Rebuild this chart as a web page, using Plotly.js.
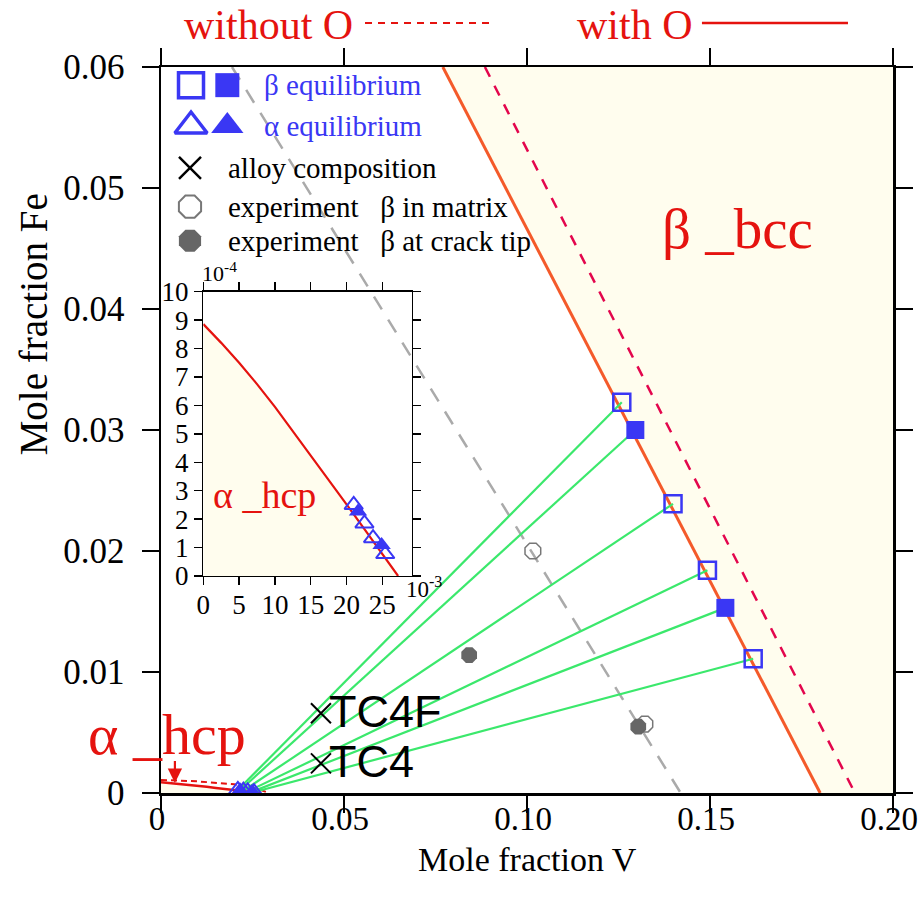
<!DOCTYPE html>
<html><head><meta charset="utf-8">
<script src="https://cdn.plot.ly/plotly-3.0.1.min.js"></script>
<style>html,body{margin:0;padding:0;background:#fff}#chart{width:919px;height:901px}</style>
</head><body><div id="chart"></div>
<script>
// ---- data (mole fraction V, mole fraction Fe) ----
const betaWithO_V = [0.0770, 0.1801];
const betaWithO_Fe = [0.06, 0];
const betaNoO_V = [0.0885, 0.1896];
const betaNoO_Fe = [0.06, 0];
const alphaWithO_V = [0, 0.0025, 0.005, 0.0075, 0.010, 0.0125, 0.015, 0.0175, 0.020, 0.0225, 0.025, 0.0272];
const alphaWithO_Fe = [0.000886, 0.00082, 0.00075, 0.000675, 0.000595, 0.00051, 0.000422, 0.000338, 0.000252, 0.000165, 0.000078, 0];
const alphaNoO_V = [0, 0.010, 0.020, 0.026, 0.0295];
const alphaNoO_Fe = [0.00108, 0.00096, 0.00072, 0.00040, 0];
const guide_V = [0.0194, 0.142];
const guide_Fe = [0.06, 0];
const tieBeta_V = [0.1259, 0.1296, 0.1399, 0.1493, 0.1542, 0.1618];
const tieBeta_Fe = [0.0323, 0.0300, 0.0239, 0.0184, 0.0153, 0.0111];
const tieAlpha_V = [0.0210, 0.0216, 0.0225, 0.0237, 0.0249, 0.0254];
const tieAlpha_Fe = [0.000250, 0.000227, 0.000185, 0.000133, 0.000109, 0.000077];
const tieFilled = [false, true, false, false, true, false];
const alloyNames = ['TC4F', 'TC4'];
const alloy_V = [0.0437, 0.0437];
const alloy_Fe = [0.00659, 0.00245];
const expMatrix_V = [0.1016, 0.1322];
const expMatrix_Fe = [0.0200, 0.0057];
const expCrack_V = [0.0842, 0.1304];
const expCrack_Fe = [0.0114, 0.00548];
const xTickVals = [0, 0.05, 0.10, 0.15, 0.20];
const xTickText = ['0', '0.05', '0.10', '0.15', '0.20'];
const yTickVals = [0, 0.01, 0.02, 0.03, 0.04, 0.05, 0.06];
const yTickText = ['0', '0.01', '0.02', '0.03', '0.04', '0.05', '0.06'];
const insetXTickVals = [0, 0.005, 0.010, 0.015, 0.020, 0.025];
const insetXTickText = ['0', '5', '10', '15', '20', '25'];
const insetYTickVals = [0, 0.0001, 0.0002, 0.0003, 0.0004, 0.0005, 0.0006, 0.0007, 0.0008, 0.0009, 0.0010];
const insetYTickText = ['0', '1', '2', '3', '4', '5', '6', '7', '8', '9', '10'];
const legendLabels = ['β equilibrium', 'α equilibrium', 'alloy composition', 'experiment&nbsp;&nbsp;&nbsp;β in matrix', 'experiment&nbsp;&nbsp;&nbsp;β at crack tip'];

// ---- styles ----
const X_RANGE = [0, 0.2], Y_RANGE = [0, 0.06];
const INSET_X = [0, 0.0291], INSET_Y = [0, 0.001];
const SERIF = 'Liberation Serif, Times New Roman, serif';
const CREAM = '#fffdee';
const RED = '#e5130f';
const BLUE = '#3a37f4';
const ORANGE = '#f45a2a';
const CRIMSON = '#e3064d';
const GREEN = '#3be86c';

const pick = (arr, cond) => arr.filter((_, i) => cond(i));
const tieX = [], tieY = [];
tieBeta_V.forEach((v, i) => { tieX.push(tieAlpha_V[i], v, null); tieY.push(tieAlpha_Fe[i], tieBeta_Fe[i], null); });

const traces = [];
traces.push({x: [betaWithO_V[0], X_RANGE[1], X_RANGE[1], betaWithO_V[1]], y: [betaWithO_Fe[0], Y_RANGE[1], Y_RANGE[0], betaWithO_Fe[1]],
  fill: 'toself', fillcolor: CREAM, line: {width: 0}, mode: 'lines', hoverinfo: 'skip'});
traces.push({x: alphaWithO_V, y: alphaWithO_Fe, fill: 'tozeroy', fillcolor: CREAM, mode: 'lines', line: {width: 0}});
traces.push({x: guide_V, y: guide_Fe, mode: 'lines', line: {color: '#aaaaaa', width: 2.5, dash: '15px,12px'}});
traces.push({x: betaNoO_V, y: betaNoO_Fe, mode: 'lines', line: {color: CRIMSON, width: 2.5, dash: '11px,10px'}});
traces.push({x: betaWithO_V, y: betaWithO_Fe, mode: 'lines', line: {color: ORANGE, width: 3}});
traces.push({x: alphaNoO_V, y: alphaNoO_Fe, mode: 'lines', line: {color: RED, width: 2, dash: '6px,4px'}});
traces.push({x: alphaWithO_V, y: alphaWithO_Fe, mode: 'lines', line: {color: RED, width: 2.5}});
traces.push({x: tieX, y: tieY, mode: 'lines', line: {color: GREEN, width: 2.2}, connectgaps: false});
traces.push({x: expMatrix_V, y: expMatrix_Fe, mode: 'markers', marker: {symbol: 'octagon-open', size: 17, color: '#777', line: {width: 1.5, color: '#777'}}});
traces.push({x: expCrack_V, y: expCrack_Fe, mode: 'markers', marker: {symbol: 'octagon', size: 17, color: '#666', line: {width: 0}}});
traces.push({x: pick(tieBeta_V, i => !tieFilled[i]), y: pick(tieBeta_Fe, i => !tieFilled[i]), mode: 'markers',
  marker: {symbol: 'square-open', size: 17, color: BLUE, line: {width: 2.5, color: BLUE}}});
traces.push({x: pick(tieBeta_V, i => tieFilled[i]), y: pick(tieBeta_Fe, i => tieFilled[i]), mode: 'markers',
  marker: {symbol: 'square', size: 18, color: BLUE, line: {width: 0}}});
traces.push({x: pick(tieAlpha_V, i => !tieFilled[i]), y: pick(tieAlpha_Fe, i => !tieFilled[i]), mode: 'markers',
  marker: {symbol: 'triangle-up-open', size: 16, color: BLUE, line: {width: 2, color: BLUE}}});
traces.push({x: pick(tieAlpha_V, i => tieFilled[i]), y: pick(tieAlpha_Fe, i => tieFilled[i]), mode: 'markers',
  marker: {symbol: 'triangle-up', size: 16, color: BLUE, line: {width: 0}}});
traces.push({x: alloy_V, y: alloy_Fe, mode: 'markers', marker: {symbol: 'x-thin-open', size: 20, color: '#000', line: {width: 2, color: '#000'}}});

// ---- inset ----
traces.push({x: alphaWithO_V, y: alphaWithO_Fe, xaxis: 'x2', yaxis: 'y2', fill: 'tozeroy', fillcolor: CREAM, mode: 'lines', line: {color: RED, width: 2.2}});
traces.push({x: pick(tieAlpha_V, i => !tieFilled[i]), y: pick(tieAlpha_Fe, i => !tieFilled[i]), xaxis: 'x2', yaxis: 'y2', mode: 'markers',
  marker: {symbol: 'triangle-up-open', size: 16, color: BLUE, line: {width: 2, color: BLUE}}});
traces.push({x: pick(tieAlpha_V, i => tieFilled[i]), y: pick(tieAlpha_Fe, i => tieFilled[i]), xaxis: 'x2', yaxis: 'y2', mode: 'markers',
  marker: {symbol: 'triangle-up', size: 16, color: BLUE, line: {width: 0}}});

// ---- legend keys (positions in plot-area fractions) ----
const keyRows = [0.975, 0.9187, 0.861, 0.8076, 0.7607];
const keyX1 = 0.041, keyX2 = 0.0906, keyXs = 0.0396;
const K = {xaxis: 'x3', yaxis: 'y3', mode: 'markers', hoverinfo: 'skip'};
traces.push(Object.assign({x: [keyX1], y: [keyRows[0]], marker: {symbol: 'square-open', size: 25, color: BLUE, line: {width: 3.5, color: BLUE}}}, K));
traces.push(Object.assign({x: [keyX2], y: [keyRows[0]], marker: {symbol: 'square', size: 24, color: BLUE, line: {width: 0}}}, K));
traces.push(Object.assign({x: [keyX1], y: [keyRows[1]], marker: {symbol: 'triangle-up-open', size: 28, color: BLUE, line: {width: 3.5, color: BLUE}}}, K));
traces.push(Object.assign({x: [keyX2], y: [keyRows[1]], marker: {symbol: 'triangle-up', size: 28, color: BLUE, line: {width: 0}}}, K));
traces.push(Object.assign({x: [keyXs], y: [keyRows[2]], marker: {symbol: 'x-thin-open', size: 22, color: '#000', line: {width: 2.5, color: '#000'}}}, K));
traces.push(Object.assign({x: [keyXs], y: [keyRows[3]], marker: {symbol: 'octagon-open', size: 24, color: '#777', line: {width: 2, color: '#777'}}}, K));
traces.push(Object.assign({x: [keyXs], y: [keyRows[4]], marker: {symbol: 'octagon', size: 24, color: '#666', line: {width: 0}}}, K));

const ann = [];
const addText = (o) => ann.push(Object.assign({showarrow: false, xref: 'paper', yref: 'paper', font: {family: SERIF, size: 28, color: '#000'}}, o));
addText({text: legendLabels[0], x: 0.1376, y: keyRows[0], xanchor: 'left', yanchor: 'middle', font: {family: SERIF, size: 29, color: BLUE}});
addText({text: legendLabels[1], x: 0.1376, y: keyRows[1], xanchor: 'left', yanchor: 'middle', font: {family: SERIF, size: 29, color: BLUE}});
addText({text: legendLabels[2], x: 0.0888, y: keyRows[2], xanchor: 'left', yanchor: 'middle', font: {family: SERIF, size: 29, color: '#000'}});
addText({text: legendLabels[3], x: 0.0888, y: keyRows[3], xanchor: 'left', yanchor: 'middle', font: {family: SERIF, size: 29, color: '#000'}});
addText({text: legendLabels[4], x: 0.0888, y: keyRows[4], xanchor: 'left', yanchor: 'middle', font: {family: SERIF, size: 29, color: '#000'}});
addText({text: 'β _bcc', x: 0.788, y: 0.777, xanchor: 'center', yanchor: 'middle', font: {family: SERIF, size: 57, color: RED}});
addText({text: 'α _hcp', x: 0.008, y: 0.08, xanchor: 'center', yanchor: 'middle', font: {family: SERIF, size: 58, color: RED}});
addText({text: 'α _hcp', x: 0.142, y: 0.41, xanchor: 'center', yanchor: 'middle', font: {family: SERIF, size: 38, color: RED}});
addText({text: 'without O', x: 0.265, y: 1.0923, xanchor: 'right', yanchor: 'top', font: {family: SERIF, size: 42, color: RED}});
addText({text: 'with O', x: 0.7295, y: 1.0923, xanchor: 'right', yanchor: 'top', font: {family: SERIF, size: 42, color: RED}});
addText({text: 'Mole fraction V', x: 0.5, y: -0.0915, xanchor: 'center', yanchor: 'middle', font: {family: SERIF, size: 34, color: '#000'}});
addText({text: 'Mole fraction Fe', x: -0.174, y: 0.645, xanchor: 'center', yanchor: 'middle', textangle: -90, font: {family: SERIF, size: 39, color: '#000'}});
addText({text: '10<sup>-4</sup>', x: 0.0533, y: 0.7176, xanchor: 'left', yanchor: 'middle', font: {family: SERIF, size: 22, color: '#000'}});
addText({text: '10<sup>-3</sup>', x: 0.332, y: 0.2824, xanchor: 'left', yanchor: 'middle', font: {family: SERIF, size: 23, color: '#000'}});
alloyNames.forEach((n, i) => ann.push({text: n, x: alloy_V[i], y: alloy_Fe[i], xref: 'x', yref: 'y', xanchor: 'left', yanchor: 'middle',
  xshift: 6, yshift: 2, showarrow: false, font: {family: 'Liberation Sans, Arial, sans-serif', size: 45, color: '#000'}}));
ann.push({text: ' ', x: 0.0038, y: alphaWithO_Fe[0] - 0.00005, xref: 'x', yref: 'y', showarrow: true, ax: 0, ay: -26,
  arrowhead: 2, arrowsize: 1.3, arrowwidth: 2.2, arrowcolor: RED, font: {size: 4}});

const shapes = [
  {type: 'line', xref: 'paper', yref: 'paper', x0: 0.2787, x1: 0.4495, y0: 1.0606, y1: 1.0606, line: {color: RED, width: 2, dash: '7px,6px'}},
  {type: 'line', xref: 'paper', yref: 'paper', x0: 0.739, x1: 0.9385, y0: 1.0606, y1: 1.0606, line: {color: RED, width: 2.5}}
];

const axBase = {showgrid: false, zeroline: false, showline: true, linecolor: '#000', linewidth: 2.5, mirror: 'ticks',
  ticks: 'outside', ticklen: 17, tickwidth: 2.5, tickcolor: '#000', tickfont: {family: SERIF, size: 35, color: '#000'},
  ticklabeloverflow: 'allow', fixedrange: true};
const insetBase = {showgrid: false, zeroline: false, showline: true, linecolor: '#000', linewidth: 1.5, mirror: 'ticks',
  ticks: 'outside', ticklen: 8, tickwidth: 1.5, tickcolor: '#000', tickfont: {family: SERIF, size: 27, color: '#000'},
  ticklabeloverflow: 'allow', fixedrange: true};

const layout = {
  width: 919, height: 901,
  margin: {l: 161, r: 26, t: 67, b: 108},
  paper_bgcolor: '#ffffff', plot_bgcolor: 'rgba(0,0,0,0)',
  showlegend: false,
  xaxis: Object.assign({}, axBase, {range: X_RANGE, tickvals: xTickVals, ticktext: xTickText, domain: [0, 1], anchor: 'y',
    ticklabelstandoff: -22, ticklabelshift: -4, tickfont: {family: SERIF, size: 33, color: '#000'}}),
  yaxis: Object.assign({}, axBase, {range: Y_RANGE, tickvals: yTickVals, ticktext: yTickText, domain: [0, 1], anchor: 'x', ticklabelstandoff: 10}),
  xaxis2: Object.assign({}, insetBase, {range: INSET_X, tickvals: insetXTickVals, ticktext: insetXTickText, domain: [0.0578, 0.3425], anchor: 'y2', ticklabelstandoff: -4}),
  yaxis2: Object.assign({}, insetBase, {range: INSET_Y, tickvals: insetYTickVals, ticktext: insetYTickText, domain: [0.2989, 0.6905], anchor: 'x2'}),
  xaxis3: {domain: [0, 1], range: [0, 1], visible: false, anchor: 'y3', fixedrange: true},
  yaxis3: {domain: [0, 1], range: [0, 1], visible: false, anchor: 'x3', fixedrange: true},
  annotations: ann,
  shapes: shapes
};

Plotly.newPlot('chart', traces, layout, {displayModeBar: false, staticPlot: true});
</script>
</body></html>
